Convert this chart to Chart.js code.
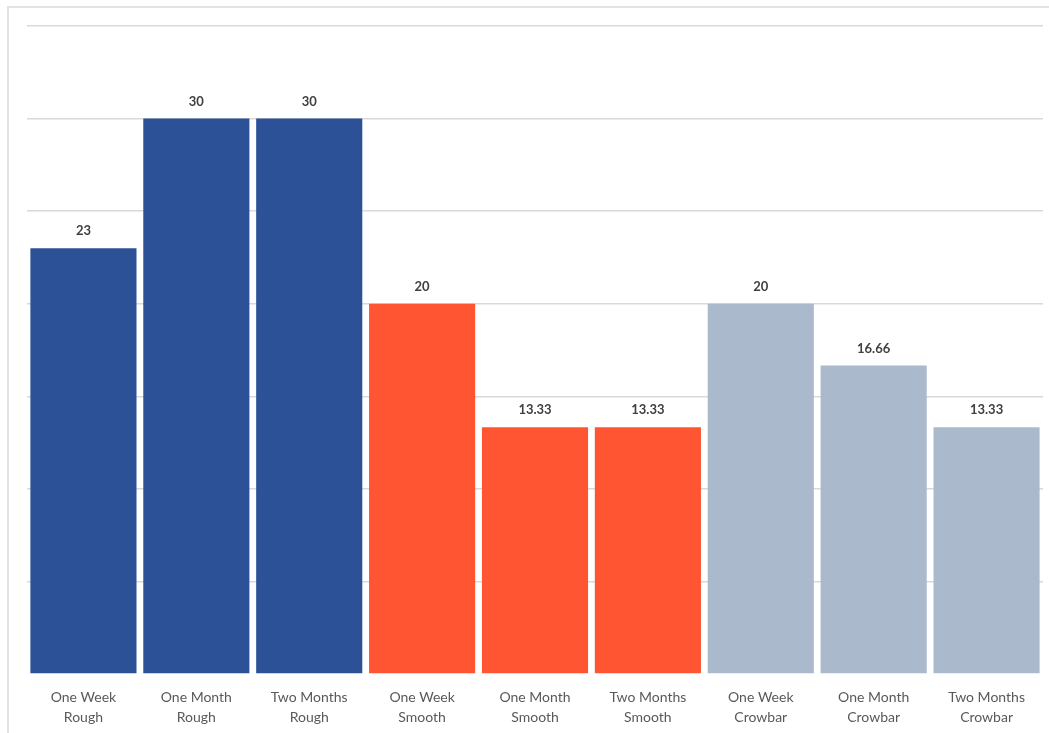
<!DOCTYPE html>
<html lang="en">
<head>
    <meta charset="UTF-8">
    <title>Rough / Smooth / Crowbar</title>
    <script src="https://cdn.jsdelivr.net/npm/chart.js"></script>
    <style>
        body { margin: 0; background: #fff; }
        #frame {
            position: absolute; left: 7px; top: 6px; right: 0; bottom: 0;
            border-left: 2px solid #e3e3e3; border-top: 2px solid #e3e3e3;
        }
        #wrap { position: absolute; left: 0; top: 0; width: 1049px; height: 733px; }
    </style>
</head>
<body>
    <div id="frame"></div>
    <div id="wrap"><canvas id="grafico"></canvas></div>

    <script>
        // dados
        const categorias = [
            ['One Week', 'Rough'], ['One Month', 'Rough'], ['Two Months', 'Rough'],
            ['One Week', 'Smooth'], ['One Month', 'Smooth'], ['Two Months', 'Smooth'],
            ['One Week', 'Crowbar'], ['One Month', 'Crowbar'], ['Two Months', 'Crowbar']
        ];
        const valores = [23, 30, 30, 20, 13.33, 13.33, 20, 16.66, 13.33];
        const rotulos = ['23', '30', '30', '20', '13.33', '13.33', '20', '16.66', '13.33'];
        const cores = ['#2c5197', '#2c5197', '#2c5197', '#ff5532', '#ff5532', '#ff5532', '#abb9cc', '#abb9cc', '#abb9cc'];

        const valoresNoTopo = {
            id: 'valoresNoTopo',
            afterDatasetsDraw(chart) {
                const ctx = chart.ctx;
                const meta = chart.getDatasetMeta(0);
                ctx.save();
                ctx.font = 'bold 13px Lato, "Liberation Sans", sans-serif';
                ctx.fillStyle = '#404040';
                ctx.textAlign = 'center';
                ctx.textBaseline = 'middle';
                meta.data.forEach((bar, i) => {
                    ctx.fillText(rotulos[i], bar.x, bar.y - 17);
                });
                ctx.restore();
            }
        };

        new Chart(document.getElementById('grafico'), {
            type: 'bar',
            data: {
                labels: categorias,
                datasets: [{
                    data: valores,
                    backgroundColor: cores,
                    categoryPercentage: 0.94,
                    barPercentage: 1.0
                }]
            },
            options: {
                responsive: true,
                maintainAspectRatio: false,
                animation: false,
                layout: { padding: { left: 27, right: 6, top: 26, bottom: 0 } },
                plugins: { legend: { display: false }, tooltip: { enabled: false } },
                scales: {
                    x: {
                        grid: { display: false, drawTicks: false },
                        border: { display: false },
                        afterFit: (scale) => { scale.height = 59; },
                        ticks: {
                            color: '#595959',
                            font: { family: 'Lato, "Liberation Sans", sans-serif', size: 14, lineHeight: 1.43 },
                            padding: 13,
                            maxRotation: 0
                        }
                    },
                    y: {
                        min: 0,
                        max: 35,
                        ticks: { display: false, stepSize: 5 },
                        border: { display: false },
                        grid: {
                            drawTicks: false,
                            color: (c) => c.tick && c.tick.value === 0 ? 'rgba(0,0,0,0)' : '#d9d9d9',
                            lineWidth: 1.5
                        }
                    }
                }
            },
            plugins: [valoresNoTopo]
        });
    </script>
</body>
</html>
